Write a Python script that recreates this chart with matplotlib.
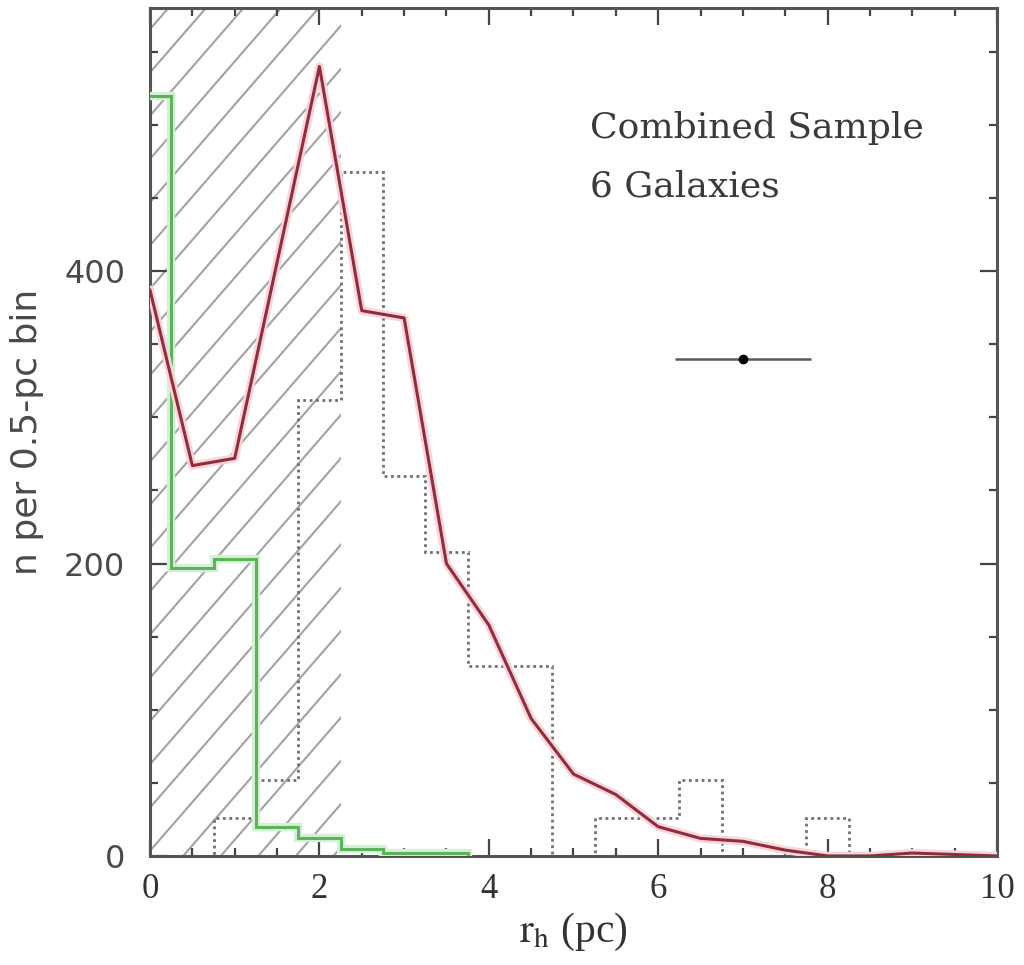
### Packages
import numpy as np
import matplotlib
matplotlib.use("Agg")
import matplotlib.pyplot as plt
from matplotlib.patches import Rectangle
from matplotlib.ticker import MultipleLocator

plt.rcParams["mathtext.fontset"] = "stix"

## Data ----------------------------------

# observed counts per 0.5-pc bin (dotted histogram)
obs_edges = [0.25, 0.75, 1.25, 1.75, 2.25, 2.75, 3.25, 3.75, 4.25, 4.75,
             5.25, 5.75, 6.25, 6.75, 7.25, 7.75, 8.25]
obs_counts = [0, 26, 52, 312, 468, 260, 208, 130, 130, 0,
              26, 26, 52, 0, 0, 26]

# contaminant / incompleteness histogram (green)
green_edges = [-0.25, 0.25, 0.75, 1.25, 1.75, 2.25, 2.75, 3.25, 3.75]
green_counts = [520, 197, 203, 20, 12, 5, 2, 2]

# smoothed distribution (red)
kde_r = [0.0, 0.5, 1.0, 1.5, 2.0, 2.5, 3.0, 3.5, 4.0, 4.5, 5.0,
         5.5, 6.0, 6.5, 7.0, 7.5, 8.0, 8.5, 9.0, 9.5, 10.0]
kde_n = [387, 267, 272, 406, 540, 373, 368, 200, 158, 94, 56,
         42, 20, 12, 10, 4, 0, 0, 2, 1, 0]

# typical measurement uncertainty
err_x, err_y, err_dx = 7.0, 340, 0.8

# region of unreliable sizes
hatch_lim = 2.25

## Plot ----------------------------------

fig = plt.figure(figsize=(10.24, 9.65), dpi=100)
ax = fig.add_axes([0.1465, 0.1130, 0.8271, 0.8787])
ax.set_xlim(0, 10)
ax.set_ylim(0, 580)

# diagonal hatching over the small-radius region
clip = Rectangle((0, 0), hatch_lim / 10, 1, transform=ax.transAxes,
                 fill=False, lw=0)
ax.add_patch(clip)
slope = 1.15
for c in np.arange(-0.3, 1.05, 0.051):
    ln, = ax.plot([0, 1], [c, c + slope], transform=ax.transAxes,
                  color="#a2a2a2", lw=1.5, zorder=1)
    ln.set_clip_path(clip)

ax.stairs(obs_counts, obs_edges, color="#707070", lw=2.0,
          linestyle=(0, (1, 1.3)), zorder=2)

# soft halo under the coloured curves
ax.stairs(green_counts, green_edges, color="#d6f0d6", lw=6, zorder=3)
ax.stairs(green_counts, green_edges, color="#5cb35c", lw=2.2, zorder=3)
ax.plot(kde_r, kde_n, color="#f7d6da", lw=6, zorder=4)
ax.plot(kde_r, kde_n, color="#922c3c", lw=2.2, zorder=4)

ax.errorbar(err_x, err_y, xerr=err_dx, fmt="o", color="black", ms=6,
            ecolor="#5a5a5a", elinewidth=1.8, capsize=0, zorder=5)

ax.text(5.2, 498, "Combined Sample", fontsize=26, family="DejaVu Serif",
        color="#3a3a3a", va="center")
ax.text(5.2, 458, "6 Galaxies", fontsize=26, family="DejaVu Serif",
        color="#3a3a3a", va="center")

# axes styling
for s in ax.spines.values():
    s.set_color("#555555")
    s.set_linewidth(2.2)
ax.xaxis.set_major_locator(MultipleLocator(2))
ax.xaxis.set_minor_locator(MultipleLocator(0.5))
ax.yaxis.set_major_locator(MultipleLocator(200))
ax.yaxis.set_minor_locator(MultipleLocator(50))
ax.tick_params(which="both", direction="in", top=True, right=True,
               color="#444444", width=1.6)
ax.tick_params(which="major", length=12)
ax.tick_params(which="minor", length=6)
ax.tick_params(axis="x", pad=12, labelsize=25, labelcolor="#333333")
ax.tick_params(axis="y", pad=18, labelsize=23, labelcolor="#4a4a4a")
for t in ax.get_xticklabels():
    t.set_family("Liberation Serif")

ax.set_xlabel(r"$\mathrm{r_h}$ (pc)", fontsize=30, family="Liberation Serif",
              color="#333333", labelpad=4)
ax.set_ylabel("n per 0.5-pc bin", fontsize=26, color="#4a4a4a", labelpad=14)

fig.savefig("out.png", dpi=100)
